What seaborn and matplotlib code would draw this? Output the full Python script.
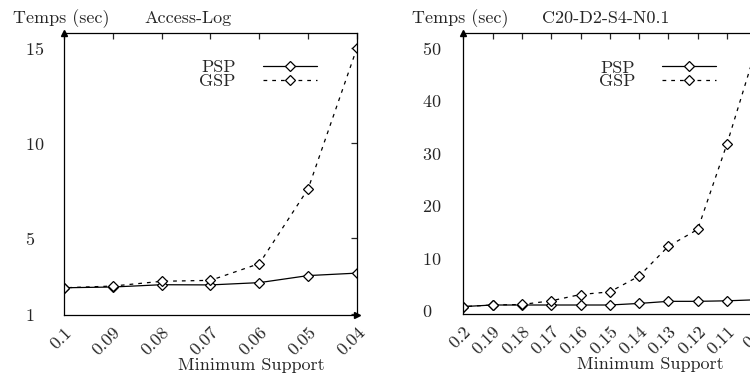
import numpy as np
import pandas as pd
import matplotlib.pyplot as plt
import seaborn as sns

# Access-Log
support_log = [0.1, 0.09, 0.08, 0.07, 0.06, 0.05, 0.04]
labels_log = ['0.1', '0.09', '0.08', '0.07', '0.06', '0.05', '0.04']
psp_log = [2.4, 2.44, 2.56, 2.55, 2.67, 3.04, 3.17]
gsp_log = [2.4, 2.49, 2.74, 2.79, 3.67, 7.6, 15.0]

# C20-D2-S4-N0.1
support_syn = [0.2, 0.19, 0.18, 0.17, 0.16, 0.15, 0.14, 0.13, 0.12, 0.11, 0.1]
labels_syn = ['0.2', '0.19', '0.18', '0.17', '0.16', '0.15', '0.14', '0.13', '0.12', '0.11', '0.1']
psp_syn = [0.8, 1.1, 1.1, 1.1, 1.1, 1.1, 1.4, 1.8, 1.8, 1.9, 2.1]
gsp_syn = [0.8, 1.1, 1.2, 1.9, 3.1, 3.6, 6.6, 12.3, 15.5, 31.8, 50.0]

FS = 13

sns.set_style("white")
plt.rcParams['font.family'] = ['cmr10', 'DejaVu Serif']
plt.rcParams['mathtext.fontset'] = 'cm'
plt.rcParams['axes.formatter.use_mathtext'] = True
plt.rcParams['font.size'] = FS


def draw(ax, support, labels, psp, gsp, ylim, yticks, ypad):
    n = len(support)
    df = pd.DataFrame({'support': support * 2,
                       'temps': psp + gsp,
                       'algo': ['PSP'] * n + ['GSP'] * n})
    sns.lineplot(data=df, x='support', y='temps', hue='algo', style='algo',
                 hue_order=['PSP', 'GSP'], style_order=['PSP', 'GSP'],
                 palette=['black', 'black'],
                 dashes={'PSP': '', 'GSP': (3, 4)},
                 markers={'PSP': 'D', 'GSP': 'D'},
                 markersize=4.6, markerfacecolor='white', markeredgecolor='black',
                 markeredgewidth=0.9, linewidth=0.9, legend=False, ax=ax)
    ax.set_xlim(support[0], support[-1])
    ax.set_ylim(*ylim)
    ax.set_xticks(support)
    ax.set_xticklabels(labels, rotation=45, ha='right', va='top',
                       rotation_mode='anchor')
    ax.set_yticks(yticks)
    for t in ax.get_yticklabels():
        t.set_horizontalalignment('left')
    ax.tick_params(top=True, right=True, direction='in', length=4,
                   width=0.9, labelsize=FS)
    ax.tick_params(axis='y', pad=ypad)
    ax.tick_params(axis='x', pad=7)
    for s in ax.spines.values():
        s.set_linewidth(0.9)
        s.set_color('black')
    ax.set_ylabel('')
    ax.set_xlabel('Minimum Support', fontsize=FS)
    ax.xaxis.set_label_coords(0.638, -0.15)
    # axis arrows
    ax.plot([0], [1], marker='^', color='black', markersize=4,
            transform=ax.transAxes, clip_on=False)
    ax.plot([1], [0], marker='>', color='black', markersize=4,
            transform=ax.transAxes, clip_on=False)
    ax.legend(ax.lines[:2], ['PSP', 'GSP'], loc='upper right',
              bbox_to_anchor=(0.863, 0.905), frameon=False, markerfirst=False,
              handlelength=3.0, handletextpad=1.5, labelspacing=-0.12,
              borderpad=0, borderaxespad=0, fontsize=FS)


fig = plt.figure(figsize=(7.5, 3.78), dpi=100)
ax1 = fig.add_axes([64 / 750, 63 / 378, 293 / 750, 282 / 378])
ax2 = fig.add_axes([463.3 / 750, 63.7 / 378, 293 / 750, 281 / 378])

draw(ax1, support_log, labels_log, psp_log, gsp_log, (0.97, 15.78), [1, 5, 10, 15], 28)
draw(ax2, support_syn, labels_syn, psp_syn, gsp_syn, (-0.67, 52.86), [0, 10, 20, 30, 40, 50], 30)

fig.text(12.7 / 750, 1 - 22.7 / 378, 'Temps (sec)', va='baseline', fontsize=FS)
fig.text(144 / 750, 1 - 22.7 / 378, 'Access-Log', va='baseline', fontsize=FS)
fig.text(411.7 / 750, 1 - 22.7 / 378, 'Temps (sec)', va='baseline', fontsize=FS)
fig.text(541.7 / 750, 1 - 22.7 / 378, 'C20-D2-S4-N0.1', va='baseline', fontsize=FS)

fig.savefig('out.png', dpi=100)
